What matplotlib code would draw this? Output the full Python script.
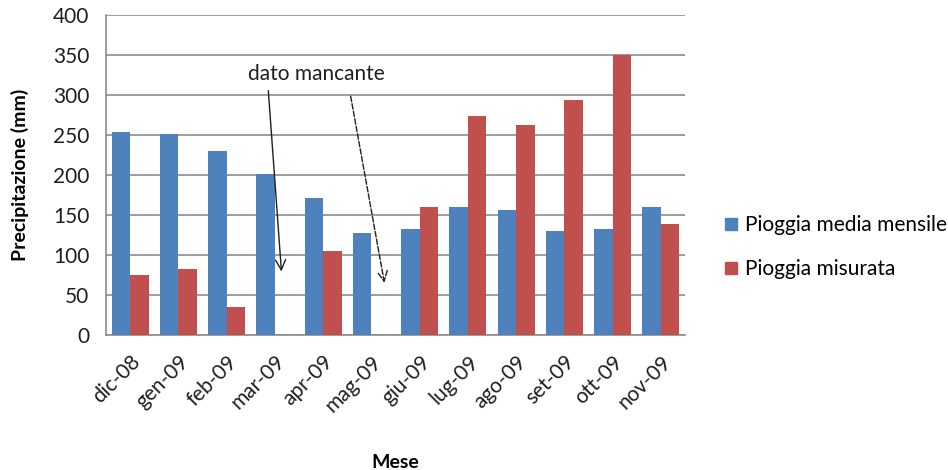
import numpy as np
import matplotlib
matplotlib.use("Agg")
import matplotlib.pyplot as plt
from matplotlib.lines import Line2D

plt.rcParams['font.family'] = ['Lato', 'DejaVu Sans']

mesi = ["dic-08", "gen-09", "feb-09", "mar-09", "apr-09", "mag-09",
        "giu-09", "lug-09", "ago-09", "set-09", "ott-09", "nov-09"]
pioggia_media = [254, 251, 230, 201, 171, 128, 132, 160, 156, 130, 132, 160]
pioggia_misurata = [75, 83, 35, np.nan, 105, np.nan, 160, 274, 263, 294, 350, 139]
y_ticks = [0, 50, 100, 150, 200, 250, 300, 350, 400]

blu = "#4F81BD"
rosso = "#C0504D"

fig = plt.figure(figsize=(9.48, 4.70), dpi=100)
ax = fig.add_axes([0.1118, 0.2872, 0.6108, 0.6808])

x = np.arange(len(mesi))
w = 0.385
ax.bar(x - w / 2, pioggia_media, width=w, color=blu, label="Pioggia media mensile", zorder=3)
ax.bar(x + w / 2, pioggia_misurata, width=w, color=rosso, label="Pioggia misurata", zorder=3)

ax.set_xlim(-0.5, len(mesi) - 0.5)
ax.set_ylim(0, 400)
ax.set_yticks(y_ticks)
ax.set_yticklabels([str(v) for v in y_ticks], fontsize=15, color="#1f1f1f")
ax.set_xticks(x)
ax.set_xticklabels(mesi, rotation=45, ha="right", rotation_mode="anchor",
                   fontsize=15, color="#1f1f1f")
ax.tick_params(axis="both", length=0)
ax.tick_params(axis="y", pad=12)
ax.tick_params(axis="x", pad=12)

ax.yaxis.grid(True, color="#8c8c8c", linewidth=1.2, zorder=0)
ax.set_axisbelow(True)
for s in ["top", "right"]:
    ax.spines[s].set_visible(False)
for s in ["left", "bottom"]:
    ax.spines[s].set_color("#8c8c8c")
    ax.spines[s].set_linewidth(1.2)

ax.set_ylabel("Precipitazione (mm)", fontsize=14, fontweight="bold", labelpad=17)
ax.set_xlabel("Mese", fontsize=14, fontweight="bold", labelpad=28)

# annotation for the months without measurements
ax.text(3.85, 326, "dato mancante", fontsize=15, ha="center", va="center", color="#1f1f1f")
ax.annotate("", xy=(3.14, 76), xytext=(2.86, 309),
            arrowprops=dict(arrowstyle="->", color="#1f1f1f", lw=1.0,
                            mutation_scale=18))
ax.annotate("", xy=(5.28, 62), xytext=(4.56, 302),
            arrowprops=dict(arrowstyle="->", color="#1f1f1f", lw=1.0,
                            linestyle=(0, (4, 1.5)), mutation_scale=18))

handles = [Line2D([], [], marker="s", linestyle="none", markersize=8,
                  markerfacecolor=blu, markeredgecolor=blu),
           Line2D([], [], marker="s", linestyle="none", markersize=8,
                  markerfacecolor=rosso, markeredgecolor=rosso)]
fig.legend(handles, ["Pioggia media mensile", "Pioggia misurata"],
           loc="center left", bbox_to_anchor=(0.752, 0.474),
           frameon=False, fontsize=15, labelspacing=1.15,
           handlelength=0.7, handletextpad=0.35, borderpad=0)

fig.savefig("out.png", dpi=100, facecolor="white")
